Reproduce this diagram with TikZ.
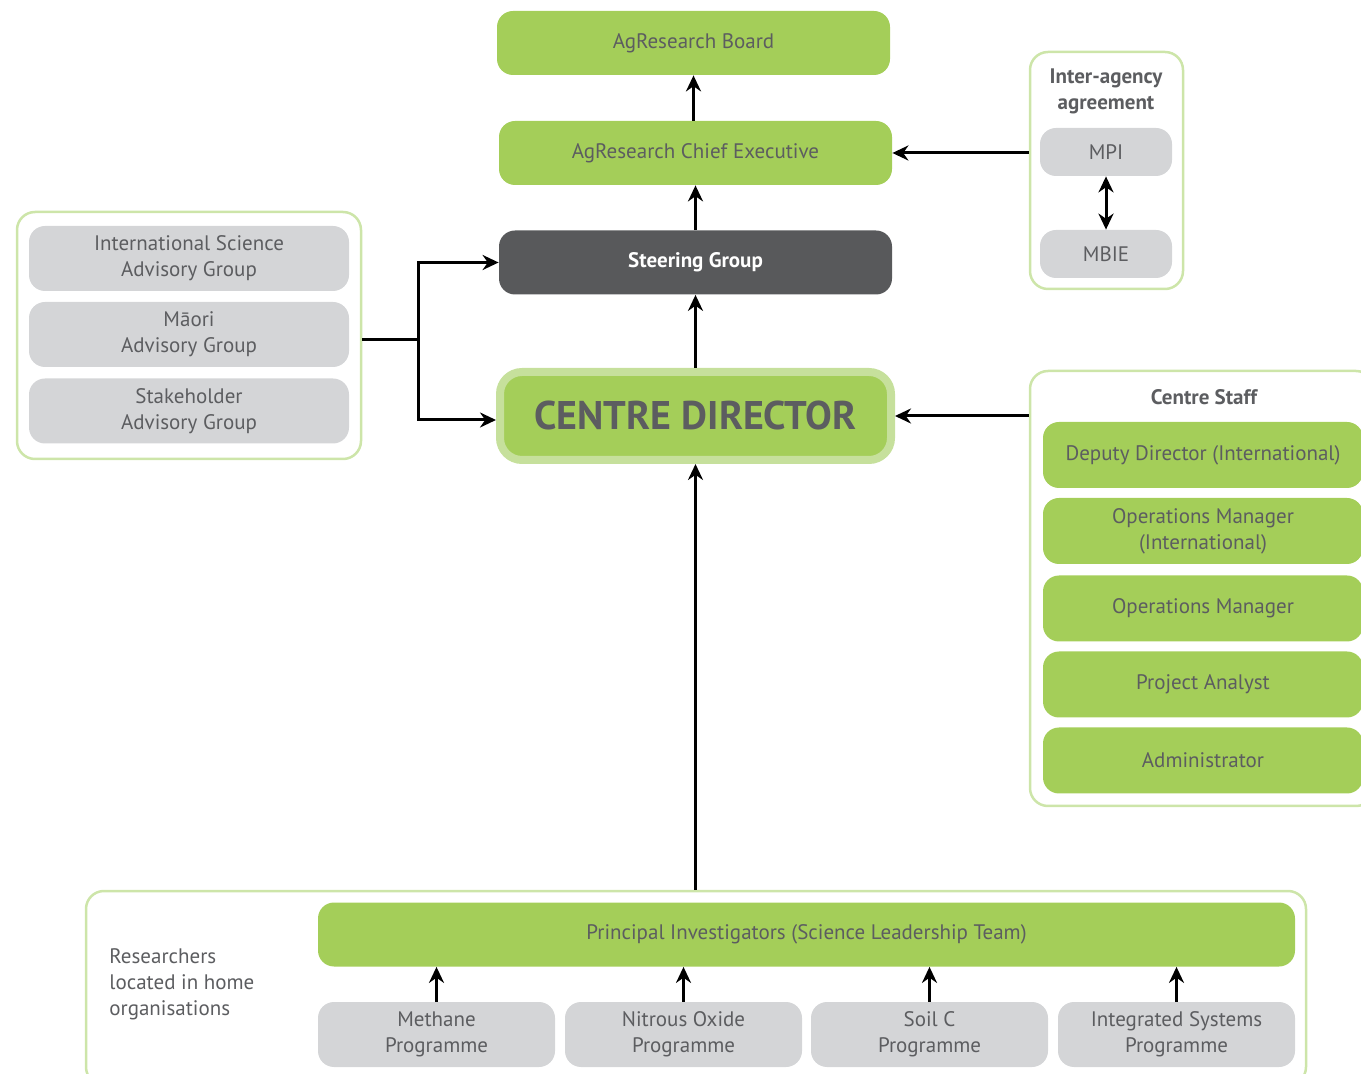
\documentclass[tikz,border=0pt]{standalone}
\usepackage{fontspec}
\setmainfont{PT Sans}
\usetikzlibrary{arrows.meta}

\definecolor{leaf}{HTML}{A4CE59}
\definecolor{leafpale}{HTML}{C6E09C}
\definecolor{framegreen}{HTML}{CDE5A9}
\definecolor{stone}{HTML}{D4D5D7}
\definecolor{slate}{HTML}{58595B}
\definecolor{inkgrey}{HTML}{5C5D60}

\tikzset{
  base/.style={rounded corners=8pt, align=center, text=inkgrey,
    font=\fontsize{10.5}{13}\selectfont, inner sep=0pt},
  greenbox/.style={base, fill=leaf, minimum width=196.5pt, minimum height=32pt},
  greybox/.style={base, fill=stone, minimum width=160pt, minimum height=32.5pt},
  staffbox/.style={base, fill=leaf, minimum width=160pt, minimum height=33pt},
  progbox/.style={base, fill=stone, minimum width=118.5pt, minimum height=32.5pt},
  framebox/.style={draw=framegreen, line width=1.25pt, rounded corners=9pt, inner sep=0pt},
  heading/.style={align=center, text=inkgrey, font=\fontsize{10.5}{13}\selectfont\bfseries},
  link/.style={line width=1.5pt, -{Stealth[length=8pt,width=7.5pt]}},
  twoway/.style={line width=1.5pt, {Stealth[length=8pt,width=7.5pt]}-{Stealth[length=8pt,width=7.5pt]}},
}

\begin{document}
\begin{tikzpicture}[x=0.5pt, y=-0.5pt]
        \clip (0,0) rectangle (1361,1074);
        \useasboundingbox (0,0) rectangle (1361,1074);

        % frames
        \node (advisory) [framebox, minimum width=172pt, minimum height=123.5pt] at (189,335.5) {};
        \node (interagency) [framebox, minimum width=76.5pt, minimum height=118.5pt] at (1106.5,170.5) {};
        \node (staff) [framebox, minimum width=172pt, minimum height=217.5pt] at (1202,588.5) {};
        \node (research) [framebox, minimum width=610pt, minimum height=97pt] at (696,988) {};

        % central column
        \node (board) [greenbox] at (693.5,43) {AgResearch Board};
        \node (ceo) [greenbox] at (695.5,153) {AgResearch Chief Executive};
        \node (steering) [greenbox, fill=slate, text=white, font=\fontsize{10.5}{13}\selectfont\bfseries] at (695.5,262.5) {Steering Group};
        \node (director) [base, fill=leaf, draw=leafpale, line width=4pt, minimum width=195.5pt, minimum height=44pt,
          rounded corners=11pt, font=\fontsize{20}{24}\selectfont\bfseries] at (695.5,416) {CENTRE DIRECTOR};

        % advisory groups
        \node (isag) [greybox] at (189,258.5) {International Science\\Advisory Group};
        \node (maori) [greybox] at (189,334.5) {Māori\\Advisory Group};
        \node (stake) [greybox] at (189,411) {Stakeholder\\Advisory Group};

        % inter-agency agreement
        \node (iatitle) [heading] at (1106,91) {Inter-agency\\agreement};
        \node (mpi) [base, fill=stone, minimum width=66pt, minimum height=24pt] at (1106,152) {MPI};
        \node (mbie) [base, fill=stone, minimum width=66pt, minimum height=24pt] at (1106,254) {MBIE};

        % centre staff
        \node (stafftitle) [heading] at (1204,397) {Centre Staff};
        \node (deputy) [staffbox] at (1203,455) {Deputy Director (International)};
        \node (opsintl) [staffbox] at (1203,531) {Operations Manager\\(International)};
        \node (ops) [staffbox] at (1203,608.5) {Operations Manager};
        \node (analyst) [staffbox] at (1203,684.5) {Project Analyst};
        \node (admin) [staffbox] at (1203,760.5) {Administrator};

        % researchers
        \node (homeorgs) [anchor=west, align=left, inner sep=0pt, text=inkgrey, font=\fontsize{10.5}{13}\selectfont] at (109,984) {Researchers\\located in home\\organisations};
        \node (pi) [greenbox, minimum width=488.5pt] at (806.5,934.5) {Principal Investigators (Science Leadership Team)};
        \node (methane) [progbox] at (436.5,1034.5) {Methane\\Programme};
        \node (nitrous) [progbox] at (683.5,1034.5) {Nitrous Oxide\\Programme};
        \node (soilc) [progbox] at (929.5,1034.5) {Soil C\\Programme};
        \node (intsys) [progbox] at (1176.5,1034.5) {Integrated Systems\\Programme};

        % edges
        \draw[link] (ceo.north -| board) -- (board);
        \draw[link] (steering.north -| ceo) -- (ceo);
        \draw[link] (director.north -| steering) -- (steering);
        \draw[link] (research.north -| director) -- (director.south);
        \draw[link] (interagency.west |- ceo) -- (ceo.east);
        \draw[link] (staff.west |- director) -- (director.east);
        \draw[twoway] (mpi) -- (mbie);
        \coordinate (fork) at (418,340);
        \draw[line width=1.5pt] (advisory.east |- fork) -- (fork);
        \draw[link] (fork) |- (steering.west);
        \draw[link] (fork) |- ([yshift=-2pt]director.west);
        \foreach \prog in {methane, nitrous, soilc, intsys}
          \draw[link] (\prog) -- (\prog |- pi.south);
\end{tikzpicture}
\end{document}
